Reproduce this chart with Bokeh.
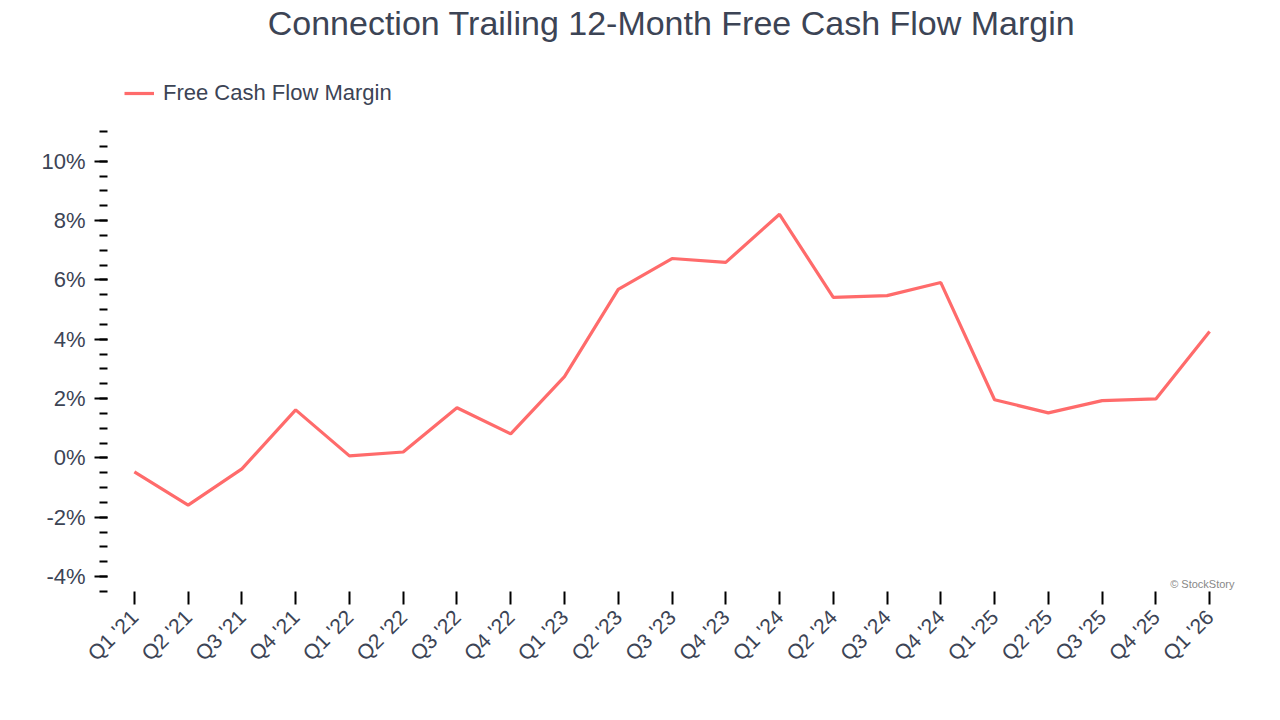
import math
from bokeh.plotting import figure
from bokeh.models import FixedTicker, PrintfTickFormatter, Legend, LegendItem, Label, Range1d
from bokeh.embed import file_html
from bokeh.resources import INLINE

quarters = ["Q1 '21", "Q2 '21", "Q3 '21", "Q4 '21", "Q1 '22", "Q2 '22", "Q3 '22", "Q4 '22",
            "Q1 '23", "Q2 '23", "Q3 '23", "Q4 '23", "Q1 '24", "Q2 '24", "Q3 '24", "Q4 '24",
            "Q1 '25", "Q2 '25", "Q3 '25", "Q4 '25", "Q1 '26"]
fcf_margin = [-0.47, -1.59, -0.37, 1.62, 0.07, 0.20, 1.69, 0.81,
              2.74, 5.68, 6.72, 6.59, 8.21, 5.41, 5.47, 5.91,
              1.96, 1.52, 1.93, 1.99, 4.26]
y_ticks = [-4, -2, 0, 2, 4, 6, 8, 10]
title_text = "Connection Trailing 12-Month Free Cash Flow Margin"

FONT = "Liberation Sans"
TXT = "#3c4455"

xs = list(range(len(quarters)))

# frame spans the full height (no ticks above 11%) so title and legend sit inside it
p = figure(width=1264, height=704, output_backend="svg", toolbar_location=None,
           x_range=Range1d(-0.5, len(quarters) - 0.5), y_range=Range1d(-4.5, 15.414),
           min_border_left=107, min_border_right=28, min_border_bottom=113, min_border_top=0)
p.title = None

r = p.line(xs, fcf_margin, line_color="#ff6b6b", line_width=3.2)

legend = Legend(items=[LegendItem(label="Free Cash Flow Margin", renderers=[r])],
                location=(17, 485), orientation="horizontal",
                label_text_font=FONT, label_text_font_size="22px", label_text_color=TXT,
                border_line_color=None, background_fill_alpha=0,
                glyph_width=30, label_standoff=9, margin=0, padding=6)
p.add_layout(legend, "center")

title = Label(x=564, y=569, x_units="screen", y_units="screen", text=title_text,
              text_font=FONT, text_font_size="34px", text_color=TXT,
              text_align="center", text_baseline="middle")
p.add_layout(title)

p.xgrid.visible = False
p.ygrid.visible = False
p.outline_line_color = None

xa = p.xaxis[0]
xa.ticker = FixedTicker(ticks=xs)
xa.major_label_overrides = {i: q for i, q in enumerate(quarters)}
xa.major_label_orientation = math.pi / 4
xa.axis_line_color = None
xa.major_tick_in = 0
xa.major_tick_out = 13
xa.major_tick_line_width = 2
xa.major_tick_line_color = "black"
xa.minor_tick_line_color = None
xa.major_label_text_font = FONT
xa.major_label_text_font_size = "21px"
xa.major_label_text_color = TXT
xa.major_label_standoff = 9

ya = p.yaxis[0]
minor = [v / 2 for v in range(-9, 23)]
ya.ticker = FixedTicker(ticks=y_ticks, minor_ticks=minor)
ya.formatter = PrintfTickFormatter(format="%d%%")
ya.axis_line_color = None
ya.major_tick_in = 0
ya.major_tick_out = 13
ya.major_tick_line_width = 2
ya.minor_tick_in = 0
ya.minor_tick_out = 8
ya.minor_tick_line_width = 2
ya.major_tick_line_color = "black"
ya.minor_tick_line_color = "black"
ya.major_label_text_font = FONT
ya.major_label_text_font_size = "22px"
ya.major_label_text_color = TXT
ya.major_label_standoff = 9

wm = Label(x=1127, y=2, x_units="screen", y_units="screen", text="© StockStory",
           text_font=FONT, text_font_size="11px", text_color="#888888",
           text_align="right", text_baseline="bottom")
p.add_layout(wm)

open("out.html", "w").write(file_html(p, INLINE))
